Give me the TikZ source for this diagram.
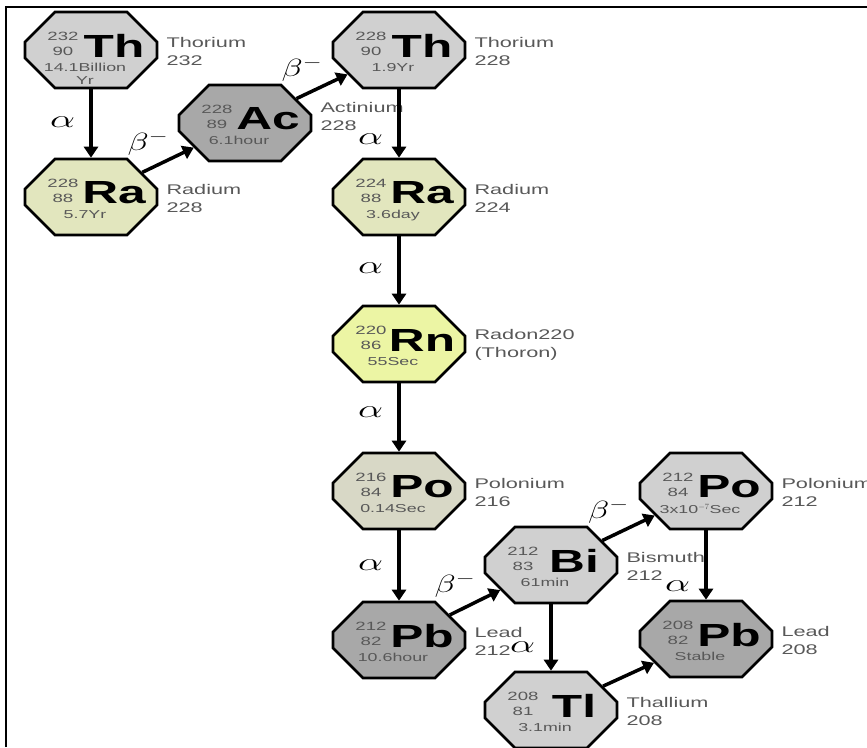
\documentclass[tikz,border=0pt]{standalone}
\usepackage{fontspec}
\usepackage{graphicx}
\usetikzlibrary{shapes.misc,arrows.meta,positioning}
\newfontfamily\isofont{Liberation Sans}[FakeStretch=1.55]
\definecolor{isolight}{RGB}{208,208,208}
\definecolor{isodark}{RGB}{168,168,168}
\definecolor{isora}{RGB}{226,230,190}
\definecolor{isorn}{RGB}{236,245,164}
\definecolor{isopo}{RGB}{216,216,198}
\definecolor{isotext}{RGB}{88,88,88}
\tikzset{
  iso/.style={chamfered rectangle, chamfered rectangle xsep=20pt, chamfered rectangle ysep=10pt,
    draw, line width=2.6pt, inner xsep=46pt, inner ysep=28pt},
  isonum/.style={font=\isofont\fontsize{12}{15}\selectfont, text=isotext, align=center, inner sep=0pt},
  isosym/.style={font=\isofont\bfseries\fontsize{32}{32}\selectfont, inner sep=0pt},
  isolife/.style={font=\isofont\fontsize{11.5}{13}\selectfont, text=isotext, align=center, anchor=north, inner sep=0pt},
  isoname/.style={font=\isofont\fontsize{14}{18}\selectfont, text=isotext, align=left, anchor=west, inner sep=0pt},
  decay/.style={line width=3.5pt, -{Triangle[width=14pt,length=11pt]}},
  alab/.style={font=\fontsize{29}{29}\selectfont, inner sep=0pt, left=14pt},
  blab/.style={font=\fontsize{27}{27}\selectfont, inner sep=0pt, xshift=-20pt, yshift=17pt},
}
\newcommand{\alphalab}{\scalebox{1.6}[1]{$\alpha$}}
\newcommand{\betalab}{\scalebox{1.4}[1]{$\beta^-$}}
\begin{document}
\begin{tikzpicture}[x=1pt,y=-1pt]
    \useasboundingbox (0,0) rectangle (867,747);
    \draw[line width=2pt] (6,747) -- (6,7) -- (867,7);

    \foreach \n/\x/\y/\c/\A/\Z/\s/\t/\el/\m/\ly in {
        th1/91/50/isolight/232/90/Th/{14.1Billion\\Yr}/Thorium/232/1,
        ra1/91/197/isora/228/88/Ra/5.7Yr/Radium/228/1,
        ac/245/123/isodark/228/89/Ac/6.1hour/Actinium/228/-7,
        th2/399/50/isolight/228/90/Th/1.9Yr/Thorium/228/1,
        ra2/399/197/isora/224/88/Ra/3.6day/Radium/224/1,
        rn/399/344/isorn/220/86/Rn/55Sec/Radon220/(Thoron)/1,
        po1/399/491/isopo/216/84/Po/0.14Sec/Polonium/216/1,
        pb1/399/640/isodark/212/82/Pb/10.6hour/Lead/212/1,
        bi/551/565/isolight/212/83/Bi/61min/Bismuth/212/1,
        po2/706/491/isolight/212/84/Po/{3x10$^{-7}$Sec}/Polonium/212/1,
        pb2/706/639/isodark/208/82/Pb/Stable/Lead/208/1,
        tl/551/710/isolight/208/81/Tl/3.1min/Thallium/208/1}{
      \node[iso,fill=\c] (\n) at (\x,\y) {};
      \node[isonum] at ([shift={(-28,-6)}]\n.center) {\A\\\Z};
      \node[isosym] at ([shift={(23,-4)}]\n.center) {\s};
      \node[isolife] at ([shift={(-6,13)}]\n.center) {\t};
      \node[isoname] at ([shift={(8,\ly)}]\n.east) {\el\\\m};
    }

    \draw[decay] (th1) -- node[alab,pos=.48] {\alphalab} (ra1);
    \draw[decay] (ra1) -- node[blab] {\betalab} (ac);
    \draw[decay] (ac) -- node[blab] {\betalab} (th2);
    \draw[decay] (th2) -- node[alab,pos=.73] {\alphalab} (ra2);
    \draw[decay] (ra2) -- node[alab,pos=.46] {\alphalab} (rn);
    \draw[decay] (rn) -- node[alab,pos=.42] {\alphalab} (po1);
    \draw[decay] (po1) -- node[alab,pos=.5] {\alphalab} (pb1);
    \draw[decay] (pb1) -- node[blab] {\betalab} (bi);
    \draw[decay] (bi) -- node[blab] {\betalab} (po2);
    \draw[decay] (bi) -- node[alab,pos=.65] {\alphalab} (tl);
    \draw[decay] (po2) -- node[alab,pos=.8] {\alphalab} (pb2);
    \draw[decay] (tl) -- (pb2);
  \end{tikzpicture}
\end{document}
